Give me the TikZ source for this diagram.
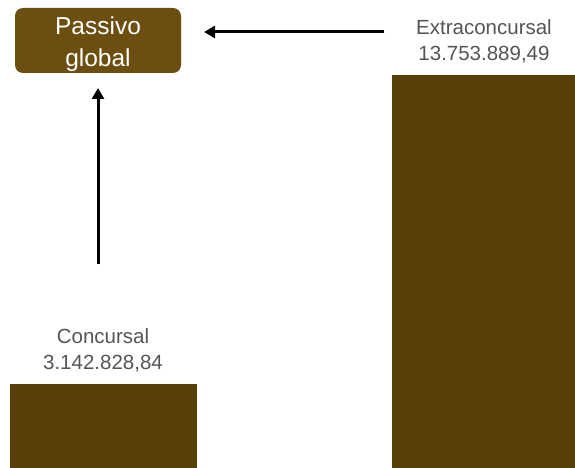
\documentclass[tikz,border=0pt]{standalone}
\usepackage{fontspec}
\setmainfont{Liberation Sans}
\usetikzlibrary{arrows.meta}
\definecolor{boxbrown}{HTML}{6B4E10}
\definecolor{barbrown}{HTML}{5A3F0B}
\definecolor{labelgray}{HTML}{555555}
\begin{document}
\begin{tikzpicture}[x=1pt,y=-1pt,
  bar/.style={fill=barbrown,draw=none},
  lbl/.style={text=labelgray,font=\fontsize{20.5}{26}\selectfont,align=center,inner sep=0pt},
  conn/.style={line width=3pt,-{Triangle[length=11pt,width=12pt]}}]
\useasboundingbox (0,0) rectangle (575,468);
\fill[white] (0,0) rectangle (575,468);
\node[fill=boxbrown,rounded corners=8pt,minimum width=166pt,minimum height=65pt,inner sep=0pt] (pg) at (98,40.5) {};
\node[text=white,font=\fontsize{24.5}{32}\selectfont,align=center,inner sep=0pt] (pgtext) at (98,44) {Passivo\\global};
\node[bar,minimum width=183pt,minimum height=393pt,inner sep=0pt] (extrabar) at (483.5,271.5) {};
\node[bar,minimum width=187pt,minimum height=84pt,inner sep=0pt] (concbar) at (103.5,426) {};
\node[lbl] (extra) at (484,41) {Extraconcursal\\13.753.889,49};
\node[lbl] (conc) at (103,350) {Concursal\\3.142.828,84};
\coordinate (hstart) at (384,32);
\coordinate (hend) at (204,32);
\coordinate (vstart) at (98,264);
\coordinate (vend) at (98,88);
\draw[conn] (hstart) -- (hend);
\draw[conn] (vstart) -- (vend);
\end{tikzpicture}
\end{document}
